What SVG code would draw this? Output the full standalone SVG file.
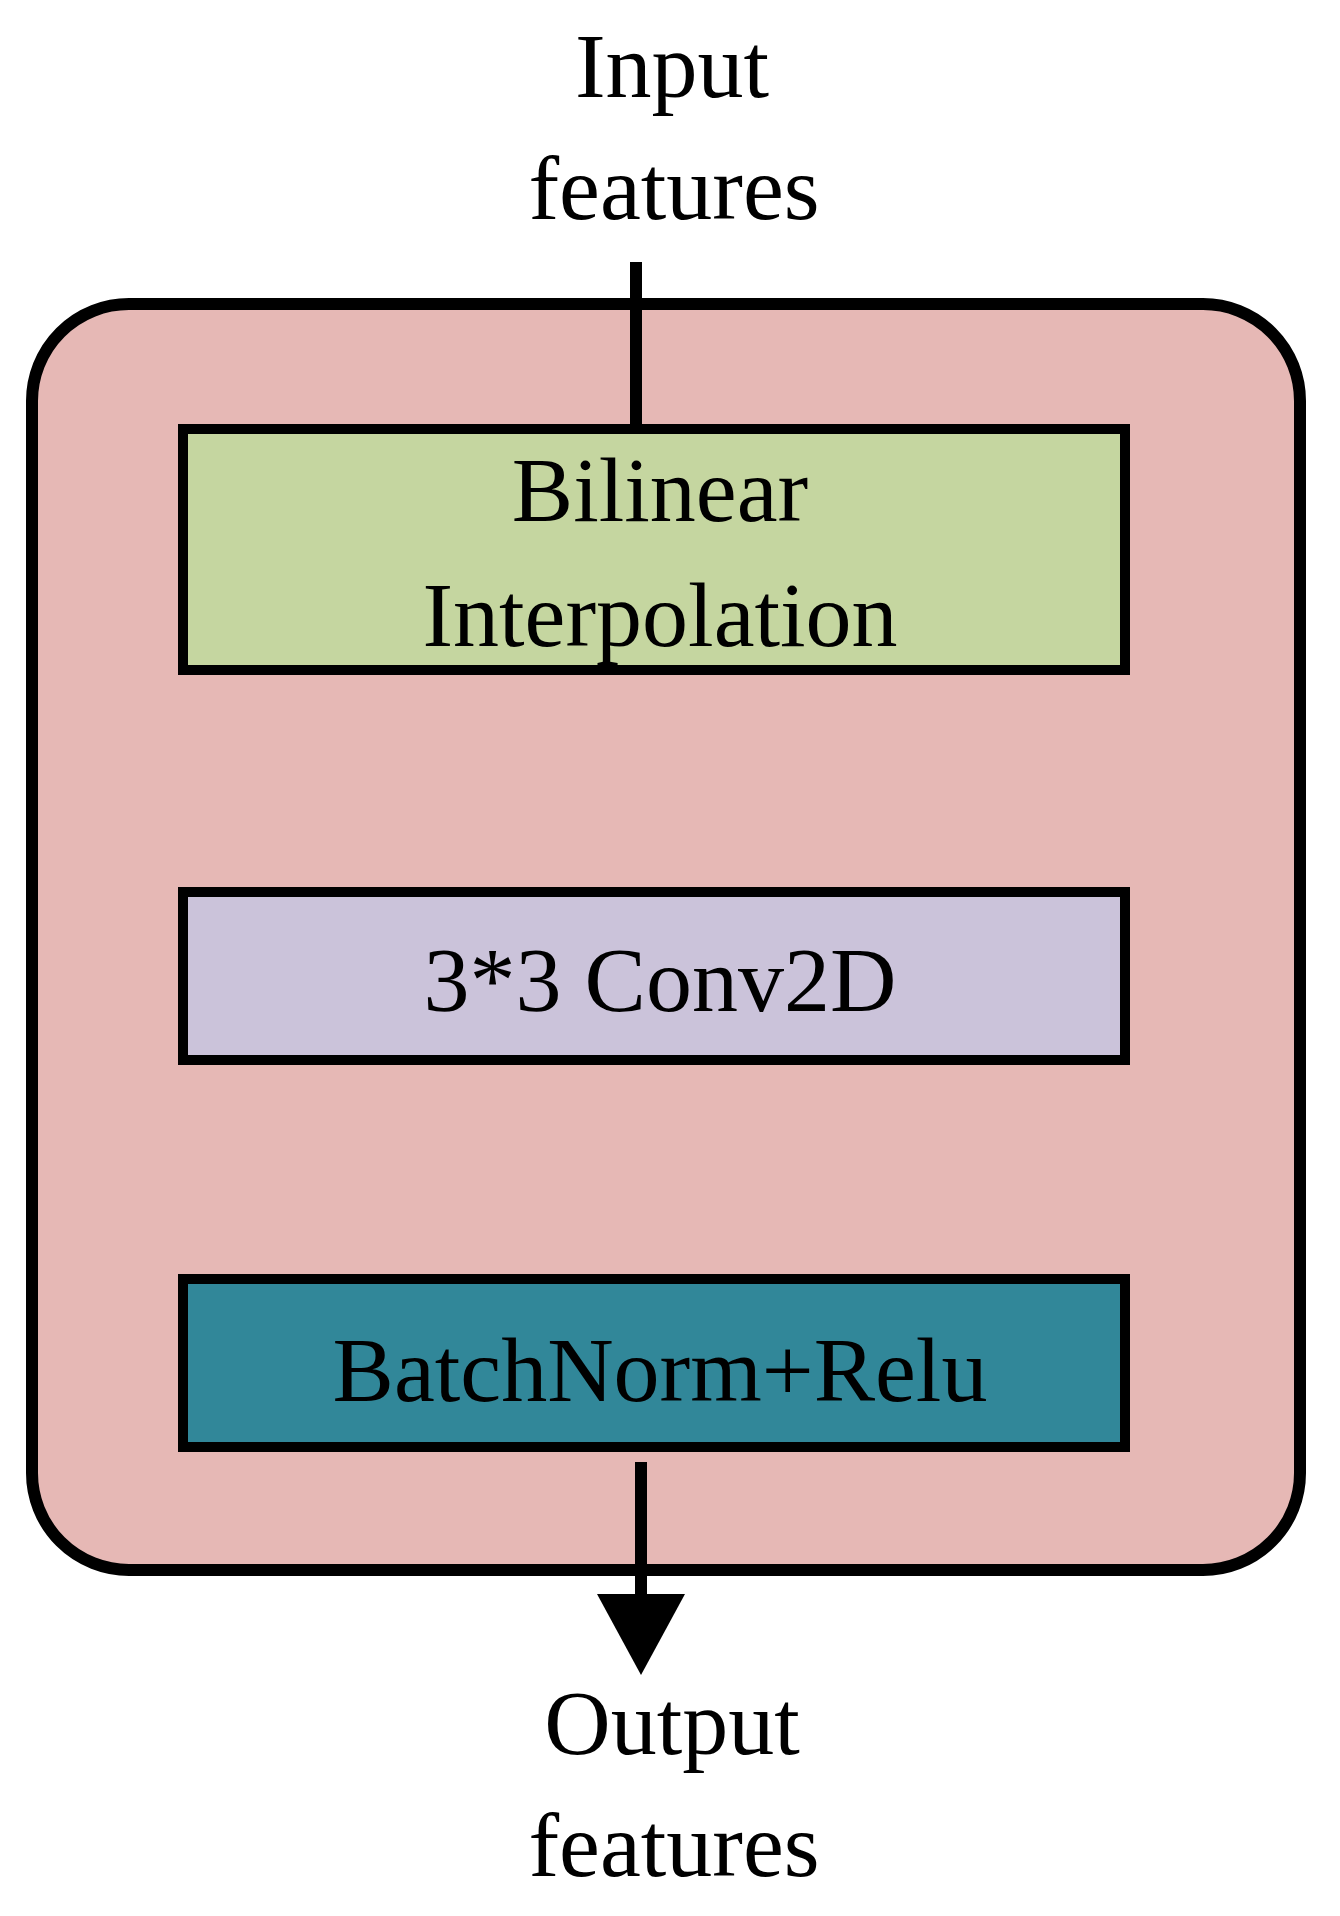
<svg xmlns="http://www.w3.org/2000/svg" width="1340" height="1916" viewBox="0 0 1340 1916">
<style>
.t{font-family:"Liberation Serif","Times New Roman",serif;font-size:92px;fill:#000;text-anchor:middle}
.b{stroke:#000;stroke-width:10}
</style>
<defs><marker id="ah" markerWidth="10" markerHeight="10" refX="0" refY="5" orient="auto" markerUnits="userSpaceOnUse"/></defs>
<rect width="1340" height="1916" fill="#fff"/>
<g id="outer"><rect x="32" y="304" width="1268" height="1266" rx="97" fill="#e6b8b5" stroke="#000" stroke-width="12"/></g>
<g id="input"><text class="t" x="672" y="97">Input</text><text class="t" x="674" y="219">features</text></g>
<g id="bilinear"><rect class="b" x="183" y="429" width="942" height="241" fill="#c5d6a0"/><text class="t" x="660" y="521">Bilinear</text><text class="t" x="660" y="646">Interpolation</text></g>
<g id="conv"><rect class="b" x="183" y="892" width="942" height="168" fill="#cbc3da"/><text class="t" x="660" y="1011">3*3 Conv2D</text></g>
<g id="bn"><rect class="b" x="183" y="1279" width="942" height="168" fill="#318799"/><text class="t" x="660" y="1401">BatchNorm+Relu</text></g>
<g id="output"><text class="t" x="672" y="1754">Output</text><text class="t" x="674" y="1876">features</text></g>
<g id="connectors">
<line x1="636" y1="262" x2="636" y2="429" stroke="#000" stroke-width="12"/>
<line x1="641" y1="1462" x2="641" y2="1600" stroke="#000" stroke-width="12"/>
<polygon points="597,1594 685,1594 641,1675" fill="#000"/>
</g>
</svg>
